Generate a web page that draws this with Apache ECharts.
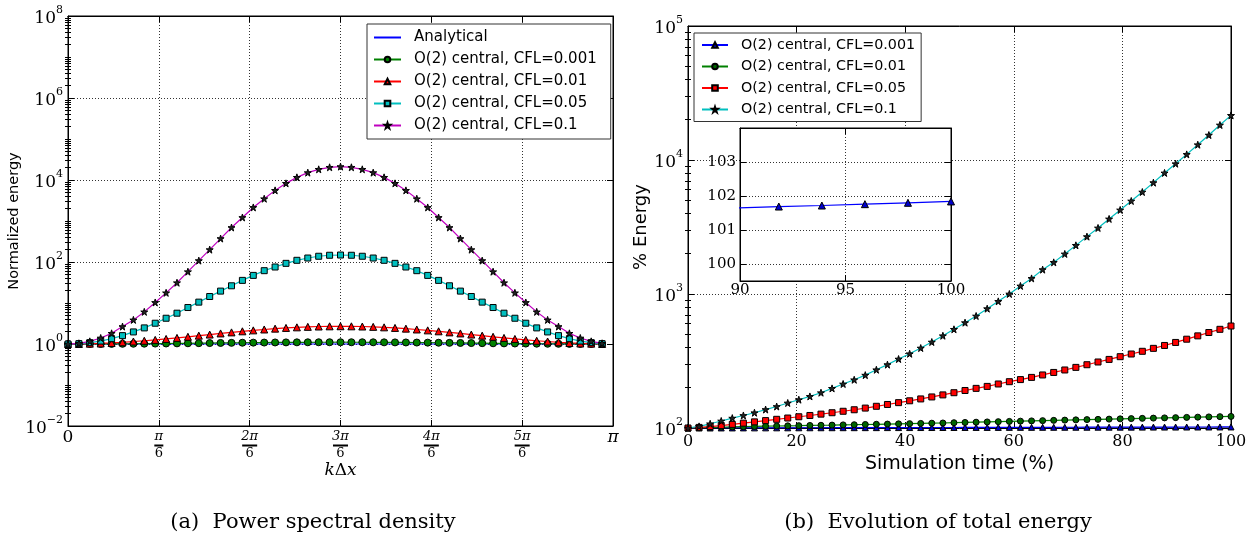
<!DOCTYPE html>
<html>
<head>
<meta charset="UTF-8">
<title>Power spectral density / total energy</title>
<script src="https://cdn.jsdelivr.net/npm/echarts@6/dist/echarts.min.js"></script>
<style>
  html, body { margin: 0; padding: 0; background: #fff; }
  #chart { width: 1255px; height: 540px; }
</style>
</head>
<body>
<div id="chart"></div>
<script>
// ---- (a) power spectral density, sampled at k*dx = i*pi/50 ----
var kDx = [0, 0.0628, 0.1257, 0.1885, 0.2513, 0.3142, 0.3770, 0.4398, 0.5027, 0.5655,
  0.6283, 0.6912, 0.7540, 0.8168, 0.8796, 0.9425, 1.0053, 1.0681, 1.1310, 1.1938,
  1.2566, 1.3195, 1.3823, 1.4451, 1.5080, 1.5708, 1.6336, 1.6965, 1.7593, 1.8221,
  1.8850, 1.9478, 2.0106, 2.0735, 2.1363, 2.1991, 2.2619, 2.3248, 2.3876, 2.4504,
  2.5133, 2.5761, 2.6389, 2.7018, 2.7646, 2.8274, 2.8903, 2.9531, 3.0159, 3.0788];
var analyticalX = [0, 3.0788];
var analytical = [1, 1];
var psdCfl0001 = [1.000, 1.000, 1.002, 1.003, 1.006, 1.010, 1.014, 1.018, 1.024, 1.029,
  1.035, 1.041, 1.048, 1.054, 1.061, 1.067, 1.074, 1.080, 1.085, 1.090,
  1.094, 1.098, 1.101, 1.103, 1.104, 1.105, 1.104, 1.103, 1.101, 1.098,
  1.094, 1.090, 1.085, 1.080, 1.074, 1.067, 1.061, 1.054, 1.048, 1.041,
  1.035, 1.029, 1.024, 1.018, 1.014, 1.010, 1.006, 1.003, 1.002, 1.000];
var psdCfl001 = [1.00, 1.00, 1.02, 1.03, 1.06, 1.10, 1.15, 1.20, 1.26, 1.33,
  1.41, 1.50, 1.60, 1.70, 1.81, 1.92, 2.04, 2.15, 2.26, 2.37,
  2.47, 2.55, 2.62, 2.67, 2.70, 2.71, 2.70, 2.67, 2.62, 2.55,
  2.47, 2.37, 2.26, 2.15, 2.04, 1.92, 1.81, 1.70, 1.60, 1.50,
  1.41, 1.33, 1.26, 1.20, 1.15, 1.10, 1.06, 1.03, 1.02, 1.00];
var psdCfl005 = [1.00, 1.02, 1.08, 1.18, 1.35, 1.60, 1.97, 2.47, 3.21, 4.25,
  5.64, 7.76, 10.5, 14.4, 19.5, 26.3, 35.6, 47.1, 61.4, 75.5,
  92.7, 110, 125, 138, 146, 148, 146, 138, 125, 110,
  92.7, 75.5, 61.4, 47.1, 35.6, 26.3, 19.5, 14.4, 10.5, 7.76,
  5.64, 4.25, 3.21, 2.47, 1.97, 1.60, 1.35, 1.18, 1.08, 1.02];
var psdCfl01 = [1.00, 1.04, 1.16, 1.40, 1.82, 2.66, 3.87, 6.08, 10.3, 17.7,
  31.2, 58, 108, 200, 373, 693, 1218, 2141, 3490, 5580,
  8280, 11600, 15100, 18200, 20400, 21200, 20400, 18200, 15100, 11600,
  8280, 5580, 3490, 2141, 1218, 693, 373, 200, 108, 58,
  31.2, 17.7, 10.3, 6.08, 3.87, 2.66, 1.82, 1.40, 1.16, 1.04];
var kTicks = ['0', 'π', '2π', '3π', '4π', '5π', 'π'];

// ---- (b) evolution of total energy (%), vs simulation time (%) ----
var simTime = [0, 2.04, 4.08, 6.12, 8.16, 10.2, 12.24, 14.29, 16.33, 18.37,
  20.41, 22.45, 24.49, 26.53, 28.57, 30.61, 32.65, 34.69, 36.73, 38.78,
  40.82, 42.86, 44.9, 46.94, 48.98, 51.02, 53.06, 55.1, 57.14, 59.18,
  61.22, 63.27, 65.31, 67.35, 69.39, 71.43, 73.47, 75.51, 77.55, 79.59,
  81.63, 83.67, 85.71, 87.76, 89.8, 91.84, 93.88, 95.92, 97.96, 100];
var enCfl0001 = [100, 100.04, 100.08, 100.11, 100.15, 100.19, 100.23, 100.26, 100.3, 100.34,
  100.38, 100.41, 100.45, 100.49, 100.53, 100.56, 100.6, 100.64, 100.68, 100.71,
  100.75, 100.79, 100.83, 100.86, 100.9, 100.94, 100.98, 101.01, 101.05, 101.09,
  101.13, 101.16, 101.2, 101.24, 101.28, 101.31, 101.35, 101.39, 101.43, 101.46,
  101.5, 101.54, 101.58, 101.61, 101.65, 101.69, 101.72, 101.76, 101.8, 101.84];
var enCfl001 = [100, 100.4, 100.9, 101.3, 101.8, 102.3, 102.7, 103.1, 103.5, 103.8,
  104.1, 104.5, 104.8, 105.1, 105.5, 105.8, 106.2, 106.6, 107, 107.4,
  107.8, 108.2, 108.6, 109, 109.5, 110, 110.5, 111, 111.5, 112,
  112.5, 113, 113.5, 114, 114.5, 115, 115.5, 116, 116.5, 117,
  117.5, 118, 118.5, 119, 119.5, 120, 120.5, 121, 121.5, 122];
var enCfl005 = [100, 101, 102.5, 104.3, 106.4, 108.7, 111.1, 113.6, 116.1, 118.7,
  121.3, 124, 126.9, 130, 133.3, 136.8, 140.8, 145.2, 149.8, 154.6,
  159.6, 164.8, 170.5, 176.6, 183.4, 190.5, 197.6, 204.4, 213, 221.6,
  229.8, 238.6, 248.8, 259.8, 271, 283.4, 296.6, 310.9, 325, 340.6,
  356.6, 373.6, 393, 413, 435, 460, 487, 516, 545, 577];
var enCfl01 = [100, 102.8, 107.5, 112.8, 118.5, 124, 130, 137.3, 144.6, 153.7,
  162.6, 172, 183.4, 197.5, 213, 229, 248, 272, 297, 327,
  358, 395, 438, 488, 545, 611, 685, 777, 881, 1000,
  1148, 1307, 1520, 1722, 1990, 2307, 2679, 3110, 3632, 4238,
  4944, 5768, 6775, 8003, 9380, 11010, 13000, 15350, 18240, 21520];

var SERIF = '"DejaVu Serif", "Liberation Serif", serif';
var SANS = '"DejaVu Sans", sans-serif';
var STAR = 'path://M50,0 L61.8,35.1 L98.9,35.1 L69,56.7 L80.4,91.8 L50,70.2 L19.6,91.8 L31,56.7 L1.1,35.1 L38.2,35.1 Z';

function pairs(xs, ys) {
  return xs.map(function (x, i) { return [x, ys[i]]; });
}

// log minor tick positions (m * 10^d)
function logMinor(d0, d1, skipEven) {
  var out = [];
  for (var d = d0; d < d1; d++) {
    for (var m = 1; m <= 9; m++) {
      if (m === 1 && (!skipEven || d % 2 === 0)) continue;
      out.push(m * Math.pow(10, d));
    }
  }
  return out;
}

function powLabel(v) {
  var e = Math.round(Math.log10(v));
  return '{b|10}{e|' + (e < 0 ? '\u2212' + (-e) : e) + '}';
}
var powRich = {
  b: { fontFamily: SERIF, fontSize: 17, color: '#000', lineHeight: 22, verticalAlign: 'bottom' },
  e: { fontFamily: SERIF, fontSize: 11, color: '#000', lineHeight: 22, verticalAlign: 'top', padding: [0, 0, 8, 0] }
};

var gridLine = { show: true, lineStyle: { color: '#333', type: [1, 2], width: 1 } };
var blackLine = { show: true, onZero: false, lineStyle: { color: '#000', width: 1 } };
var tickIn = { show: true, inside: true, length: 6, lineStyle: { color: '#000' } };

function mirror(base, pos) {
  var a = Object.assign({}, base);
  a.position = pos;
  a.axisLabel = { show: false };
  a.splitLine = { show: false };
  a.name = '';
  return a;
}

function minorAxis(grid, min, max, vals, pos) {
  return {
    gridIndex: grid, type: 'log', logBase: 10, min: min, max: max, position: pos,
    axisLine: { show: false }, axisLabel: { show: false }, splitLine: { show: false },
    axisTick: { show: true, inside: true, length: 3, customValues: vals, lineStyle: { color: '#000' } }
  };
}

// panel (a) axes
var xA = {
  gridIndex: 0, type: 'value', min: 0, max: Math.PI, interval: Math.PI / 6,
  axisLine: blackLine, axisTick: tickIn, splitLine: gridLine,
  axisLabel: {
    margin: 4, verticalAlign: 'top',
    formatter: function (v) {
      var n = Math.round(v / (Math.PI / 6));
      if (n === 0) return '{t|0}';
      if (n === 6) return '{p|π}';
      return '{n|' + kTicks[n] + '}\n{bar' + (n === 1 ? 'S' : 'L') + '|}\n{d|6}';
    },
    rich: {
      t: { fontFamily: SERIF, fontSize: 17, color: '#000', lineHeight: 16 },
      p: { fontFamily: SERIF, fontSize: 17, fontStyle: 'italic', color: '#000', lineHeight: 16 },
      n: { fontFamily: SERIF, fontSize: 13, fontStyle: 'italic', color: '#000', lineHeight: 14, align: 'center' },
      barS: { width: 9, height: 2, backgroundColor: '#000', lineHeight: 3, align: 'center' },
      barL: { width: 15, height: 2, backgroundColor: '#000', lineHeight: 3, align: 'center' },
      d: { fontFamily: SERIF, fontSize: 13, color: '#000', lineHeight: 14, align: 'center' }
    }
  },
  name: '{i|k}{u|\u0394}{i|x}', nameLocation: 'middle', nameGap: 36, nameMoveOverlap: false,
  nameTextStyle: {
    rich: {
      i: { fontFamily: SERIF, fontSize: 17, fontStyle: 'italic', color: '#000' },
      u: { fontFamily: SERIF, fontSize: 17, color: '#000' }
    }
  }
};
var yA = {
  gridIndex: 0, type: 'log', logBase: 10, min: 0.01, max: 1e8, interval: 2,
  axisLine: blackLine, axisTick: tickIn, splitLine: gridLine,
  axisLabel: { margin: 5, formatter: powLabel, rich: powRich },
  name: 'Normalized energy', nameLocation: 'middle', nameGap: 46,
  nameTextStyle: { fontFamily: SANS, fontSize: 14.5, color: '#000' }
};
var minorA = logMinor(-2, 8, true);

// panel (b) axes
var xB = {
  gridIndex: 1, type: 'value', min: 0, max: 100, interval: 20,
  axisLine: blackLine, axisTick: tickIn, splitLine: gridLine,
  axisLabel: { margin: 6, fontFamily: SERIF, fontSize: 16, color: '#000' },
  name: 'Simulation time (%)', nameLocation: 'middle', nameGap: 27,
  nameTextStyle: { fontFamily: SANS, fontSize: 19, color: '#000' }
};
var yB = {
  gridIndex: 1, type: 'log', logBase: 10, min: 100, max: 1e5, interval: 1,
  axisLine: blackLine, axisTick: tickIn, splitLine: gridLine,
  axisLabel: { margin: 5, formatter: powLabel, rich: powRich },
  name: '% Energy', nameLocation: 'middle', nameGap: 31,
  nameTextStyle: { fontFamily: SANS, fontSize: 18, color: '#000' }
};
var minorB = logMinor(2, 5, false);

// inset axes
var xI = {
  gridIndex: 2, type: 'value', min: 90, max: 100, interval: 5, z: 5,
  axisLine: blackLine, axisTick: tickIn, splitLine: gridLine,
  axisLabel: { margin: 2, fontFamily: SERIF, fontSize: 15, color: '#000' }
};
var yI = {
  gridIndex: 2, type: 'value', min: 99.5, max: 104, z: 5, splitNumber: 5,
  axisLine: blackLine, axisTick: tickIn, splitLine: gridLine,
  axisLabel: { margin: 4, fontFamily: SERIF, fontSize: 15, color: '#000', showMinLabel: false, showMaxLabel: false }
};

function line(name, xs, ys, xi, yi, color, sym, fill, size, z) {
  return {
    name: name, type: 'line', xAxisIndex: xi, yAxisIndex: yi,
    data: pairs(xs, ys), symbol: sym, symbolSize: size, showSymbol: sym !== 'none',
    lineStyle: { color: color, width: 1.2 },
    itemStyle: { color: fill, borderColor: '#000', borderWidth: 1 },
    emphasis: { disabled: true }, animation: false, clip: true, z: z || 2
  };
}

var N1 = 'O(2) central, CFL=0.001', N2 = 'O(2) central, CFL=0.01',
    N3 = 'O(2) central, CFL=0.05', N4 = 'O(2) central, CFL=0.1';

var option = {
  backgroundColor: '#fff',
  animation: false,
  grid: [
    { left: 68, top: 16, width: 545, height: 410, show: true, borderColor: '#000', borderWidth: 1 },
    { left: 688, top: 26, width: 543, height: 402, show: true, borderColor: '#000', borderWidth: 1 },
    { left: 740, top: 128, width: 211, height: 153, show: true, borderColor: '#000', borderWidth: 1, backgroundColor: '#fff', z: 4 }
  ],
  xAxis: [xA, mirror(xA, 'top'), xB, mirror(xB, 'top'), xI, mirror(xI, 'top')],
  yAxis: [
    yA, mirror(yA, 'right'),
    minorAxis(0, 0.01, 1e8, minorA, 'left'), minorAxis(0, 0.01, 1e8, minorA, 'right'),
    yB, mirror(yB, 'right'),
    minorAxis(1, 100, 1e5, minorB, 'left'), minorAxis(1, 100, 1e5, minorB, 'right'),
    yI, mirror(yI, 'right')
  ],
  legend: [
    {
      left: 367, top: 24, orient: 'vertical', itemWidth: 27, itemHeight: 7, itemGap: 7,
      padding: [6, 14, 6, 6], backgroundColor: '#fff', borderColor: '#333', borderWidth: 1, z: 10,
      textStyle: { fontFamily: SANS, fontSize: 15, color: '#000', padding: [0, 0, 0, 8] },
      data: [{ name: 'Analytical', itemStyle: { opacity: 0 } }, N1, N2, N3, N4]
    },
    {
      left: 694, top: 33, orient: 'vertical', itemWidth: 26, itemHeight: 7, itemGap: 7.5,
      padding: [5, 6, 5, 7], backgroundColor: '#fff', borderColor: '#333', borderWidth: 1, z: 10,
      textStyle: { fontFamily: SANS, fontSize: 14.3, color: '#000', padding: [0, 0, 0, 8] },
      formatter: function (n) { return n.replace('#b', ''); },
      data: [N1 + '#b', N2 + '#b', N3 + '#b', N4 + '#b']
    }
  ],
  graphic: [
    { type: 'text', x: 313, y: 523, style: { text: '(a)  Power spectral density', font: '21px ' + SERIF, fill: '#000', align: 'center', verticalAlign: 'middle' } },
    { type: 'text', x: 938, y: 523, style: { text: '(b)  Evolution of total energy', font: '21px ' + SERIF, fill: '#000', align: 'center', verticalAlign: 'middle' } }
  ],
  series: [
    line('Analytical', analyticalX, analytical, 0, 0, '#0000ff', 'none', '#0000ff', 0, 2),
    line(N1, kDx, psdCfl0001, 0, 0, '#008000', 'circle', '#008000', 7, 3),
    line(N2, kDx, psdCfl001, 0, 0, '#ff0000', 'triangle', '#ff0000', 7, 3),
    line(N3, kDx, psdCfl005, 0, 0, '#00bfbf', 'rect', '#00bfbf', 6, 3),
    line(N4, kDx, psdCfl01, 0, 0, '#bf00bf', STAR, '#222', 7, 3),

    line(N1 + '#b', simTime, enCfl0001, 2, 4, '#0000ff', 'triangle', '#0000cc', 6, 3),
    line(N2 + '#b', simTime, enCfl001, 2, 4, '#008000', 'circle', '#006400', 6, 3),
    line(N3 + '#b', simTime, enCfl005, 2, 4, '#ff0000', 'rect', '#ff0000', 6, 3),
    line(N4 + '#b', simTime, enCfl01, 2, 4, '#00bfbf', STAR, '#222', 7, 3),

    line('inset', simTime, enCfl0001, 4, 8, '#0000ff', 'triangle', '#0000cc', 7, 6)
  ]
};

var chart = echarts.init(document.getElementById('chart'), null, { renderer: 'canvas' });
chart.setOption(option);
</script>
</body>
</html>
